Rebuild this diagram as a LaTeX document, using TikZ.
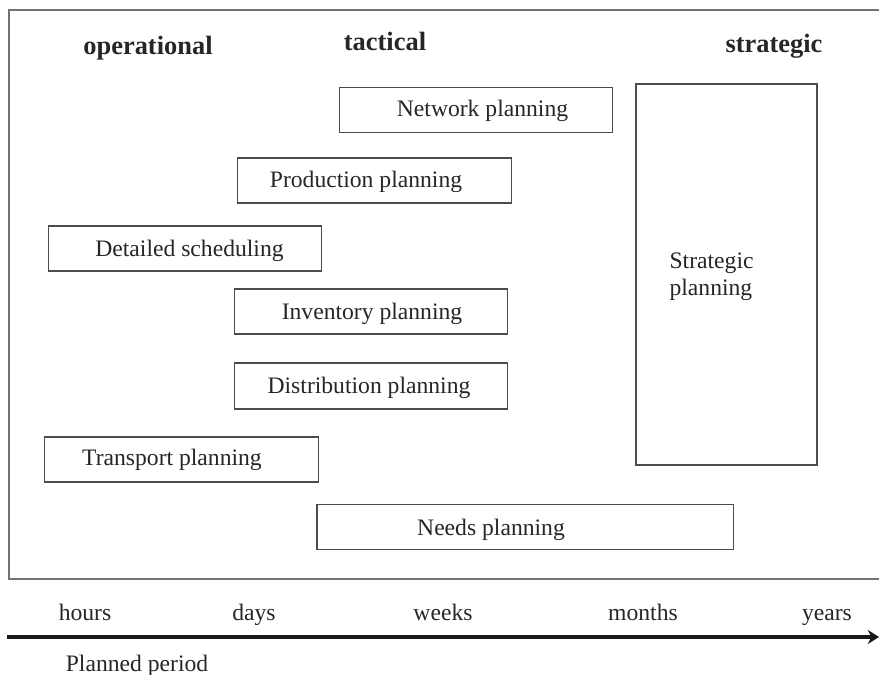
\documentclass[tikz,border=0pt]{standalone}
\usepackage{fontspec}
\setmainfont{Liberation Serif}
\usetikzlibrary{positioning}
\usetikzlibrary{arrows.meta}

\begin{document}
\begin{tikzpicture}[x=0.025cm, y=-0.025cm, line width=0.8pt,
    plan/.style={draw, black!70, minimum width=6.83cm, minimum height=1.125cm, inner sep=0pt},
    txt/.style={text=black!85, inner sep=0pt, font=\fontsize{16.8}{19}\selectfont},
    head/.style={text=black!85, inner sep=0pt, font=\fontsize{18.8}{22}\selectfont\bfseries}]
    \useasboundingbox (0,0) rectangle (879,675);

    % frame, open to the right
    \draw[black!55] (879,10) -- (9,10) -- (9,579) -- (879,579);

    \node (oper) [head] at (148,48) {operational};
    \node (tact) [head] at (385,41) {tactical};
    \node (strat) [head] at (774,46) {strategic};

    \node (net)  [plan] at (476,110) {};
    \node (prod) [plan] at (374.5,180.5) {};
    \node (det)  [plan] at (185,248.5) {};
    \node (inv)  [plan] at (371,311.5) {};
    \node (dist) [plan, minimum height=1.15cm] at (371,386) {};
    \node (trans) [plan] at (181.5,459.5) {};
    \node (needs) [plan, minimum width=10.4cm] at (525,527) {};
    \node (strp) [plan, minimum width=4.525cm, minimum height=9.525cm] at (726.5,274.5) {};

    \node (netT)   [txt, anchor=base] at (482.5,117)  {Network planning};
    \node (prodT)  [txt, anchor=base] at (366,188)    {Production planning};
    \node (detT)   [txt, anchor=base] at (189.5,256)  {Detailed scheduling};
    \node (invT)   [txt, anchor=base] at (372,319)    {Inventory planning};
    \node (distT)  [txt, anchor=base] at (369,393)    {Distribution planning};
    \node (transT) [txt, anchor=base] at (172,465)    {Transport planning};
    \node (needsT) [txt, anchor=base] at (491,535)    {Needs planning};
    \node (strpT)  [txt, align=left, anchor=west, font=\fontsize{16.8}{19.2}\selectfont] at (669,277) {Strategic\\planning};

    % time axis
    \coordinate (axL) at (7,637);
    \coordinate (axR) at (879,637);
    \draw[black!90, line width=2.2pt, -{Stealth[length=8pt, width=10pt]}] (axL) -- (axR);

    \node (hours)  [txt, anchor=base] at (85,620)  {hours};
    \node (days)   [txt, anchor=base] at (254,620) {days};
    \node (weeks)  [txt, anchor=base] at (443,620) {weeks};
    \node (months) [txt, anchor=base] at (643,620) {months};
    \node (years)  [txt, anchor=base] at (827,620) {years};

    \node (period) [txt, anchor=base] at (137,671) {Planned period};
\end{tikzpicture}
\end{document}
